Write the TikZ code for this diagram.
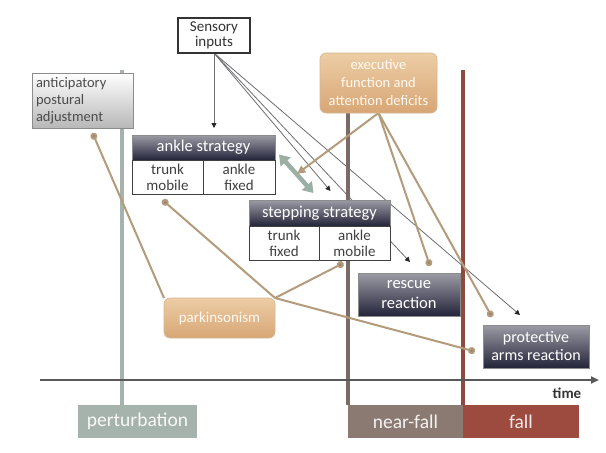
\documentclass[tikz,border=0pt]{standalone}
\usepackage{fontspec}
\setmainfont{Carlito}
\usetikzlibrary{arrows.meta,calc}
\definecolor{cTan}{HTML}{B39B7B}
\definecolor{cSens}{HTML}{6E6E72}
\definecolor{cPert}{HTML}{A6B3AC}
\definecolor{cNear}{HTML}{8A7A71}
\definecolor{cNearLine}{HTML}{7A6C64}
\definecolor{cFall}{HTML}{9C4B3E}
\definecolor{cFallLine}{HTML}{8E4A3E}
\definecolor{cGreen}{HTML}{9CAFA5}
\definecolor{cOrTop}{HTML}{EDCDA5}
\definecolor{cOrBot}{HTML}{D7A675}
\definecolor{cDkTop}{HTML}{9C9CA6}
\definecolor{cDkBot}{HTML}{24243A}
\pgfdeclarelayer{back}
\pgfdeclarelayer{bg}
\pgfsetlayers{back,bg,main}
\begin{document}
\begin{tikzpicture}[x=1pt,y=-1pt,
  every node/.style={inner sep=0pt,outer sep=0pt},
  plainbox/.style={draw=black!80,line width=1.3pt,fill=white,text=black!80,align=center},
  antbox/.style={draw=black!45,line width=0.8pt,top color=white,bottom color=black!28,text=black!70},
  darkbox/.style={draw=black!45,line width=0.6pt,top color=cDkTop,bottom color=cDkBot,text=white,align=center},
  cell/.style={draw=black!75,line width=1pt,fill=white,text=black!75,align=center,font=\fontsize{15}{16}\selectfont},
  orbox/.style={draw=cOrTop!90!black,line width=0.6pt,rounded corners=6pt,top color=cOrTop,bottom color=cOrBot,text=white!95!orange,align=center},
  phase/.style={minimum height=33,font=\fontsize{19.5}{20}\selectfont},
  sensarrow/.style={draw=cSens,line width=0.8pt,-{Triangle[length=5pt,width=5pt,fill=black!85,color=black!85]}},
  tanline/.style={draw=cTan,line width=2pt},
  tandot/.style={tanline,-{Circle[length=7pt,width=7pt,fill=cTan!85!black]}},
  tanarrow/.style={tanline,-{Triangle[length=8pt,width=8pt]}},
]
\begin{pgfonlayer}{back}
\fill[white] (0,0) rectangle (606,453);
\end{pgfonlayer}
\useasboundingbox (0,0) rectangle (606,453);

% nodes
\node[plainbox,minimum width=72,minimum height=35,font=\fontsize{15}{14.5}\selectfont] (sens) at (214,35.5) {Sensory\\inputs};
\node[antbox,minimum width=101,minimum height=55,text width=93,align=left,font=\fontsize{14.5}{17}\selectfont] (ant) at (82.5,100.5) {anticipatory\\postural\\adjustment};

\node[darkbox,minimum width=143,minimum height=25,font=\fontsize{16.5}{18}\selectfont] (ankh) at (203.5,147.5) {ankle strategy};
\node[cell,minimum width=71,minimum height=34] (anklel) at (167.5,177) {trunk\\mobile};
\node[cell,minimum width=72,minimum height=34] (ankler) at (239,177) {ankle\\fixed};

\node[darkbox,minimum width=141,minimum height=26,font=\fontsize{16.5}{18}\selectfont] (steph) at (319.5,213) {stepping strategy};
\node[cell,minimum width=70,minimum height=34] (stepl) at (284,243) {trunk\\fixed};
\node[cell,minimum width=71,minimum height=34] (stepr) at (354.5,243) {ankle\\mobile};

\node[orbox,minimum width=117,minimum height=60,font=\fontsize{14.5}{18}\selectfont] (exec) at (378.5,83) {executive\\function and\\attention deficits};
\node[orbox,minimum width=111,minimum height=40,font=\fontsize{15}{18}\selectfont] (park) at (219.5,318) {parkinsonism};

\node[darkbox,minimum width=102,minimum height=43,font=\fontsize{16.5}{19.5}\selectfont] (rescue) at (409,294.5) {rescue\\reaction};
\node[darkbox,minimum width=106,minimum height=43,font=\fontsize{16}{18}\selectfont] (protect) at (536,346.5) {protective\\arms reaction};

\node[phase,fill=cPert,minimum width=119,text=white!92!cPert] (pert) at (137.5,421.5) {perturbation};
\node[phase,fill=cNear,minimum width=115,text=white!90!cNear] (nf) at (405.5,421.5) {near-fall};
\node[phase,fill=cFall,minimum width=116,text=white!88!cFall] (fall) at (521,421.5) {fall};
\node[font=\fontsize{15}{16}\selectfont\bfseries,text=black!80] (time) at (567,393) {time};

\coordinate (pertop) at (122,70);
\coordinate (falltop) at (463,70);
\coordinate (axl) at (40,380);
\coordinate (axr) at (599,380);
\coordinate (sw) at ($(ankh.east)!0.5!(steph.north)$);

\begin{pgfonlayer}{bg}
% phase lines
\draw[cPert,line width=4pt] (pertop) -- (pertop |- pert.north);
\draw[cNearLine,line width=4pt] (exec.south -| nf.north west) -- (nf.north west);
\draw[cFallLine,line width=4pt] (falltop) -- (falltop |- fall.north);
% time axis
\draw[black!65,line width=2pt,-{Triangle[length=8pt,width=7pt]}] (axl) -- (axr);

% sensory connectors
\draw[sensarrow,shorten >=7pt] (sens.south) -- (sens.south |- ankh.north);
\draw[sensarrow] (sens.south) -- ($(steph.north)+(11,-9)$);
\draw[sensarrow] (sens.south) -- ($(rescue.north)+(1,-11)$);
\draw[sensarrow] (sens.south) -- ($(protect.north)+(-16,-10)$);

% strategy switch
\draw[cGreen,line width=4.5pt,{Triangle[length=10pt,width=13pt]}-{Triangle[length=10pt,width=13pt]}] ($(ankh.east)+(4,7)$) -- ($(steph.north)+(-6,-7)$);

% executive connectors
\draw[tanarrow] (exec.south) -- (sw);
\draw[tandot] (exec.south) -- ($(rescue.north)+(21,-7)$);
\draw[tandot] (exec.south) -- ($(protect.north)+(-44,-8)$);

% parkinsonism connectors
\draw[tandot] (park.north west) -- ($(ant.south)+(10,5)$);
\draw[tandot] (park.north east) -- ($(anklel.south)+(-5,6)$);
\draw[tandot] (park.north east) -- ($(stepr.south)+(-11,3)$);
\draw[tandot] (park.north east) -- ($(protect.west)+(-8,5)$);
\end{pgfonlayer}
\end{tikzpicture}
\end{document}
